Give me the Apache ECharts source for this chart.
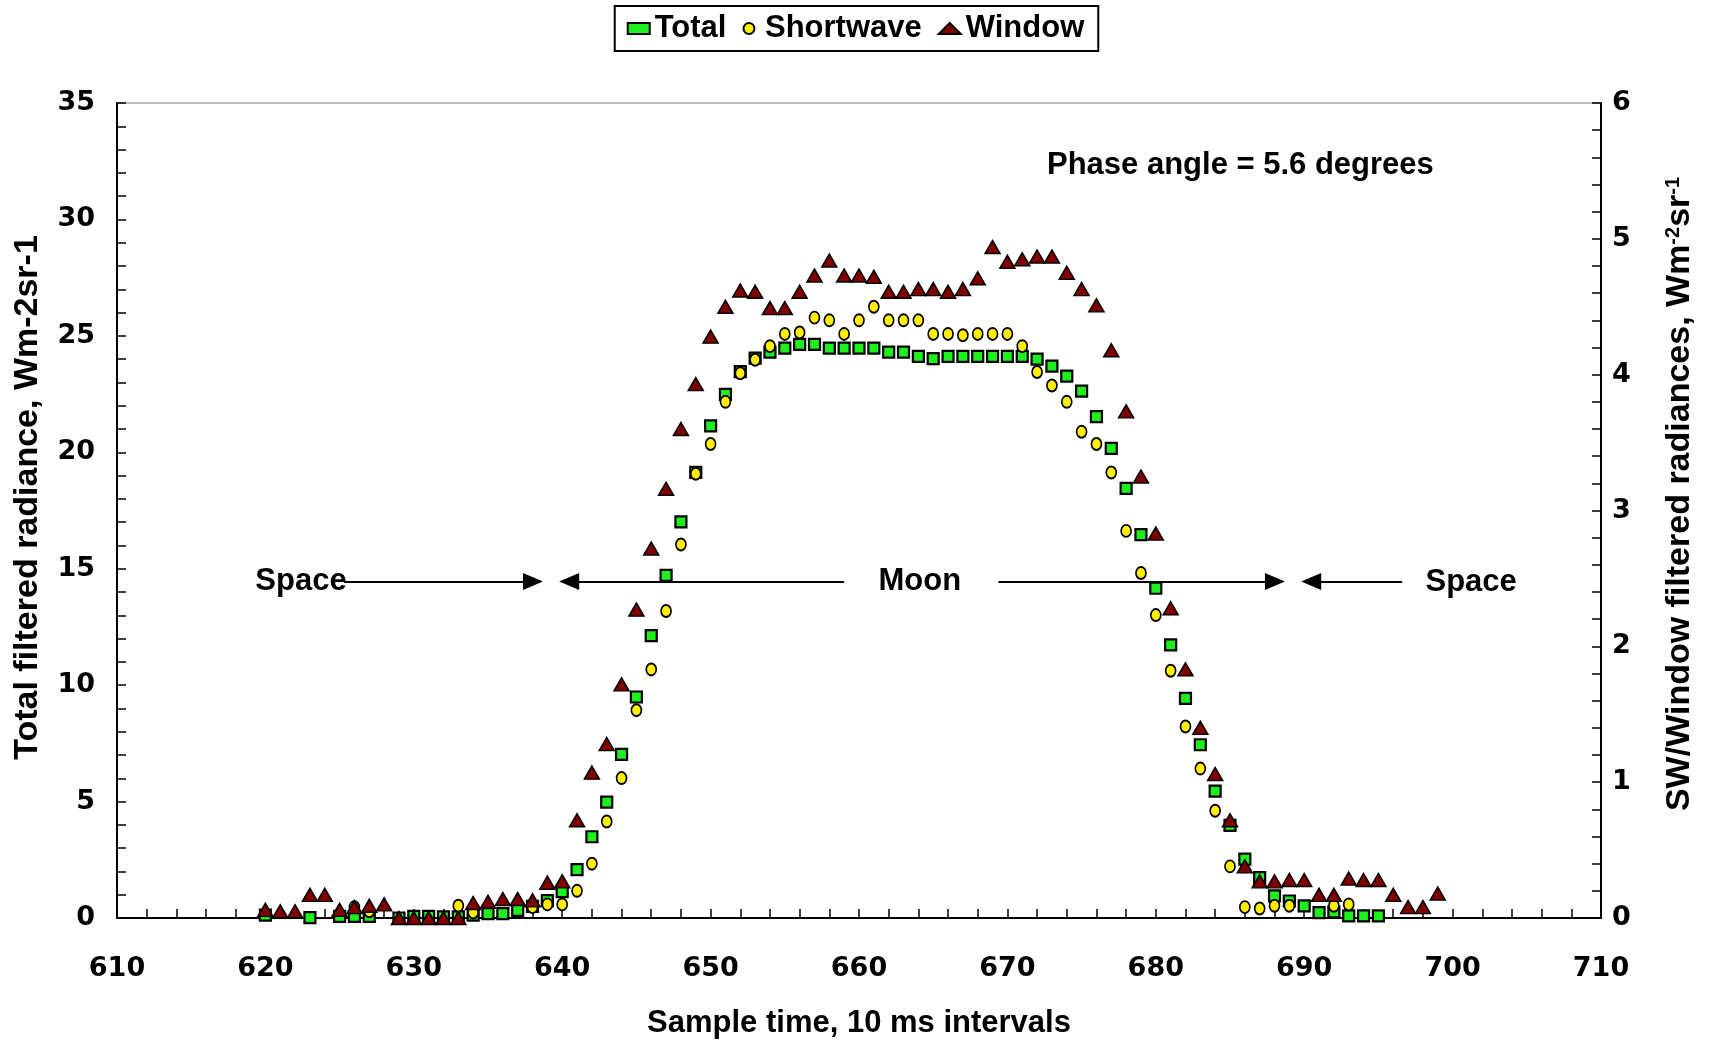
<!DOCTYPE html>
<html>
<head>
<meta charset="utf-8">
<script src="https://cdn.jsdelivr.net/npm/echarts@6/dist/echarts.min.js"></script>
<style>
html,body{margin:0;padding:0;background:#fff;}
#chart{width:1711px;height:1040px;}
</style>
</head>
<body>
<div id="chart"></div>
<script>
// ---- Data ----
const totalSamples = [620,623,625,626,627,629,630,631,632,633,634,635,636,637,638,639,640,641,642,643,644,645,646,647,648,649,650,651,652,653,654,655,656,657,658,659,660,661,662,663,664,665,666,667,668,669,670,671,672,673,674,675,676,677,678,679,680,681,682,683,684,685,686,687,688,689,690,691,692,693,694,695];
const totalValues = [0.12,0.02,0.07,0.07,0.07,0.0,0.07,0.07,0.05,0.05,0.12,0.19,0.19,0.33,0.5,0.75,1.13,2.08,3.49,4.98,7.03,9.49,12.13,14.71,17.01,19.14,21.13,22.49,23.46,24.04,24.3,24.47,24.63,24.63,24.47,24.47,24.47,24.47,24.3,24.3,24.12,24.02,24.12,24.12,24.12,24.12,24.12,24.12,24.0,23.7,23.27,22.63,21.53,20.17,18.45,16.46,14.16,11.73,9.43,7.44,5.45,3.98,2.53,1.73,0.95,0.73,0.52,0.23,0.26,0.09,0.09,0.09];

const swSamples = [626,627,633,634,638,639,640,641,642,643,644,645,646,647,648,649,650,651,652,653,654,655,656,657,658,659,660,661,662,663,664,665,666,667,668,669,670,671,672,673,674,675,676,677,678,679,680,681,682,683,684,685,686,687,688,689,692,693];
const swValues = [0.08,0.05,0.09,0.04,0.08,0.10,0.10,0.20,0.40,0.71,1.03,1.53,1.83,2.26,2.75,3.27,3.49,3.80,4.01,4.11,4.21,4.30,4.31,4.42,4.40,4.30,4.40,4.50,4.40,4.40,4.40,4.30,4.30,4.29,4.30,4.30,4.30,4.21,4.02,3.92,3.80,3.58,3.49,3.28,2.85,2.54,2.23,1.82,1.41,1.10,0.79,0.38,0.08,0.07,0.09,0.09,0.09,0.10];

const winSamples = [620,621,622,623,624,625,626,627,628,629,630,631,632,633,634,635,636,637,638,639,640,641,642,643,644,645,646,647,648,649,650,651,652,653,654,655,656,657,658,659,660,661,662,663,664,665,666,667,668,669,670,671,672,673,674,675,676,677,678,679,680,681,682,683,684,685,686,687,688,689,690,691,692,693,694,695,696,697,698,699];
const winValues = [0.06,0.05,0.05,0.17,0.17,0.06,0.08,0.09,0.10,0,0,0,0,0,0.11,0.12,0.14,0.14,0.13,0.26,0.27,0.72,1.07,1.28,1.72,2.27,2.72,3.16,3.60,3.93,4.28,4.50,4.62,4.61,4.49,4.49,4.61,4.73,4.84,4.73,4.73,4.72,4.61,4.61,4.63,4.63,4.61,4.63,4.71,4.94,4.83,4.85,4.87,4.87,4.75,4.63,4.51,4.18,3.73,3.25,2.83,2.28,1.83,1.40,1.06,0.72,0.38,0.27,0.27,0.28,0.28,0.17,0.17,0.29,0.28,0.28,0.17,0.08,0.08,0.18];

const seriesNames = ['Total','Shortwave','Window'];
const xTitle = 'Sample time, 10 ms intervals';
const yLeftTitle = 'Total filtered radiance, Wm-2sr-1';
const yRightTitle = 'SW/Window filtered radiances, Wm{sup|-2}sr{sup|-1}';
const phaseText = 'Phase angle = 5.6 degrees';
// annotation arrows (x from, x of arrow-head centre) at the Total-axis level
const arrowLevel = 14.45;
const arrows = [[625.3,638.03],[659.0,640.47],[669.4,688.03],[696.6,690.47]];
const annotations = [['Space',622.4,14.45],['Moon',664.1,14.45],['Space',701.25,14.4],[phaseText,685.7,32.3]];

function zip(xs, ys){ return xs.map((x,i)=>[x, ys[i]]); }

const SANS = '"Liberation Sans", Arial, sans-serif';
const TICKF = '"DejaVu Sans", sans-serif';

const chart = echarts.init(document.getElementById('chart'), null, {renderer:'canvas'});

const axisCommonY = {
  type:'value',
  splitLine:{show:false},
  axisLine:{show:true, lineStyle:{color:'#000', width:2}},
  axisTick:{show:true, inside:true, length:9, lineStyle:{color:'#000', width:1.5}},
  minorTick:{show:true, splitNumber:5, length:9, lineStyle:{color:'#000', width:1.5}},
  axisLabel:{fontFamily:TICKF, fontWeight:'bold', fontSize:27, color:'#000'},
  nameLocation:'middle',
  nameRotate:90,
  nameTextStyle:{fontFamily:SANS, fontWeight:'bold', fontSize:34, color:'#000'}
};

const option = {
  animation:false,
  backgroundColor:'#fff',
  grid:{left:117, right:110, top:103, bottom:122, show:true, borderColor:'#808080', borderWidth:1, containLabel:false, outerBoundsMode:'none'},
  legend:{
    top:6, left:'center',
    data:seriesNames,
    borderColor:'#000', borderWidth:2, padding:[7,14,7,12],
    itemWidth:22, itemHeight:11, itemGap:16,
    textStyle:{fontFamily:SANS, fontWeight:'bold', fontSize:31, color:'#000'}
  },
  xAxis:{
    type:'value', min:610, max:710, interval:10,
    splitLine:{show:false},
    axisLine:{show:true, onZero:false, lineStyle:{color:'#000', width:2}},
    axisTick:{show:true, inside:true, length:9, lineStyle:{color:'#000', width:1.5}},
    minorTick:{show:true, splitNumber:5, length:9, lineStyle:{color:'#000', width:1.5}},
    axisLabel:{fontFamily:TICKF, fontWeight:'bold', fontSize:27, color:'#000', margin:37},
    name:xTitle, nameLocation:'middle', nameGap:90,
    nameTextStyle:{fontFamily:SANS, fontWeight:'bold', fontSize:31, color:'#000'}
  },
  yAxis:[
    Object.assign({}, axisCommonY, {
      position:'left', min:0, max:35, interval:5,
      axisLabel:Object.assign({}, axisCommonY.axisLabel, {margin:22}),
      name:yLeftTitle, nameGap:72,
      nameTextStyle:Object.assign({}, axisCommonY.nameTextStyle, {padding:[0,0,0,26]})
    }),
    Object.assign({}, axisCommonY, {
      position:'right', min:0, max:6, interval:1,
      axisLabel:Object.assign({}, axisCommonY.axisLabel, {margin:11}),
      name:yRightTitle, nameGap:62,
      nameTextStyle:Object.assign({}, axisCommonY.nameTextStyle, {
        padding:[0,0,0,33],
        rich:{
          sup:{fontFamily:SANS, fontWeight:'bold', fontSize:20, color:'#000', verticalAlign:'top'}
        }
      })
    })
  ],
  series:[
    {
      name:seriesNames[0], type:'scatter', yAxisIndex:0, clip:false,
      symbol:'rect', symbolSize:11,
      itemStyle:{color:'#1ef01e', opacity:1, borderColor:'#000', borderWidth:2.2},
      data:zip(totalSamples,totalValues),
      markLine:{
        silent:true, animation:false,
        symbol:['none','triangle'], symbolSize:[17,20],
        label:{show:false},
        lineStyle:{color:'#000', width:2.2, type:'solid', opacity:1},
        itemStyle:{color:'#000'},
        emphasis:{disabled:true},
        data:arrows.map(a=>[
          {coord:[a[0],arrowLevel]},
          {coord:[a[1],arrowLevel]}
        ])
      },
      markPoint:{
        silent:true, animation:false,
        symbol:'rect', symbolSize:1,
        itemStyle:{color:'rgba(0,0,0,0)'},
        label:{show:true, position:'inside', formatter:'{b}', fontFamily:SANS, fontWeight:'bold', fontSize:31, color:'#000'},
        data:annotations.map(a=>({name:a[0], coord:[a[1],a[2]]}))
      }
    },
    {
      name:seriesNames[1], type:'scatter', yAxisIndex:1, clip:false,
      symbol:'circle', symbolSize:[10,12],
      itemStyle:{color:'#ffee00', opacity:1, borderColor:'#000', borderWidth:1.8},
      data:zip(swSamples,swValues)
    },
    {
      name:seriesNames[2], type:'scatter', yAxisIndex:1, clip:false,
      symbol:'triangle', symbolSize:[15,13],
      itemStyle:{color:'#800000', opacity:1, borderColor:'#000', borderWidth:1.5},
      data:zip(winSamples,winValues)
    }
  ]
};
chart.setOption(option);
</script>
</body>
</html>
